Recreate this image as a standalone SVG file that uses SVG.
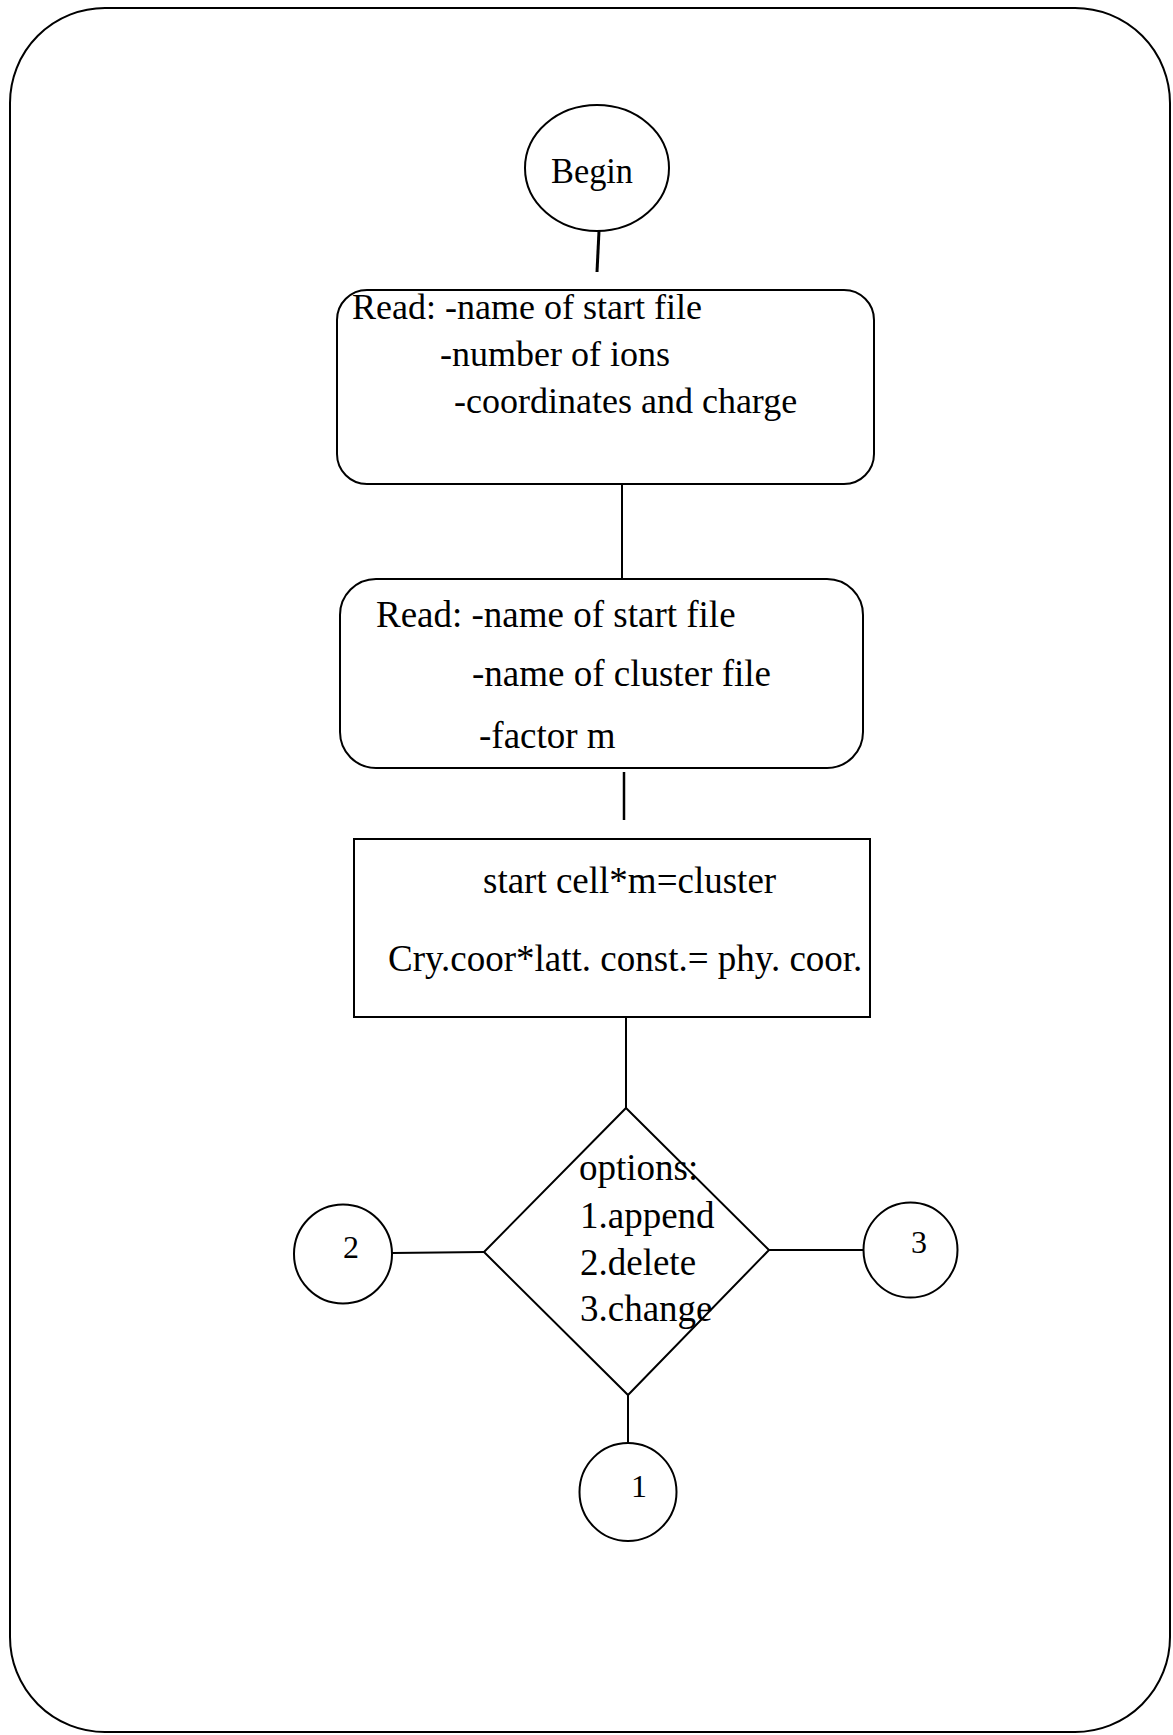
<svg xmlns="http://www.w3.org/2000/svg" width="1173" height="1735" viewBox="0 0 1173 1735">
<style>
.s{fill:none;stroke:#000;stroke-width:2}
.n{fill:#fff;stroke:#000;stroke-width:2}
.c line{stroke:#000;stroke-width:2}
text{font-family:"Liberation Serif","Times New Roman",serif;font-size:37px;fill:#000}
.d{font-size:32px}
</style>
<rect x="0" y="0" width="1173" height="1735" fill="#fff"/>
<rect id="frame" class="s" x="10" y="8" width="1160" height="1724" rx="95" ry="95"/>
<g id="connectors" class="c">
<line x1="599" y1="231" x2="597" y2="272" style="stroke-width:3"/>
<line x1="622" y1="484" x2="622" y2="578"/>
<line x1="624" y1="772" x2="624" y2="820" style="stroke-width:2.5"/>
<line x1="626" y1="1017" x2="626" y2="1108"/>
<line x1="392" y1="1253" x2="484" y2="1252"/>
<line x1="769" y1="1250" x2="864" y2="1250"/>
<line x1="628" y1="1395" x2="628" y2="1444"/>
</g>
<g id="begin">
<ellipse class="n" cx="597" cy="168" rx="72" ry="63"/>
<text x="551" y="183" style="font-size:35px" textLength="82" lengthAdjust="spacingAndGlyphs">Begin</text>
</g>
<g id="read1">
<rect class="n" x="337" y="290" width="537" height="194" rx="30" ry="30"/>
<text x="352" y="319" style="font-size:36px">Read: -name of start file</text>
<text x="440" y="366" style="font-size:36px">-number of ions</text>
<text x="454" y="413" style="font-size:36px">-coordinates and charge</text>
</g>
<g id="read2">
<rect class="n" x="340" y="579" width="523" height="189" rx="36" ry="36"/>
<text x="376" y="627">Read: -name of start file</text>
<text x="472" y="686">-name of cluster file</text>
<text x="479" y="748">-factor m</text>
</g>
<g id="compute">
<rect class="n" x="354" y="839" width="516" height="178"/>
<text x="483" y="893">start cell*m=cluster</text>
<text x="388" y="971">Cry.coor*latt. const.= phy. coor.</text>
</g>
<g id="options">
<polygon class="n" points="626,1108 769,1250 628,1395 484,1252"/>
<text x="579" y="1180">options:</text>
<text x="580" y="1228">1.append</text>
<text x="580" y="1275">2.delete</text>
<text x="580" y="1321">3.change</text>
</g>
<g id="c2">
<ellipse class="n" cx="343" cy="1254" rx="49" ry="49.5"/>
<text class="d" x="343" y="1258">2</text>
</g>
<g id="c3">
<ellipse class="n" cx="910.5" cy="1250" rx="47" ry="47.5"/>
<text class="d" x="911" y="1253">3</text>
</g>
<g id="c1">
<ellipse class="n" cx="628" cy="1492" rx="48.5" ry="49"/>
<text class="d" x="631" y="1497">1</text>
</g>
</svg>
